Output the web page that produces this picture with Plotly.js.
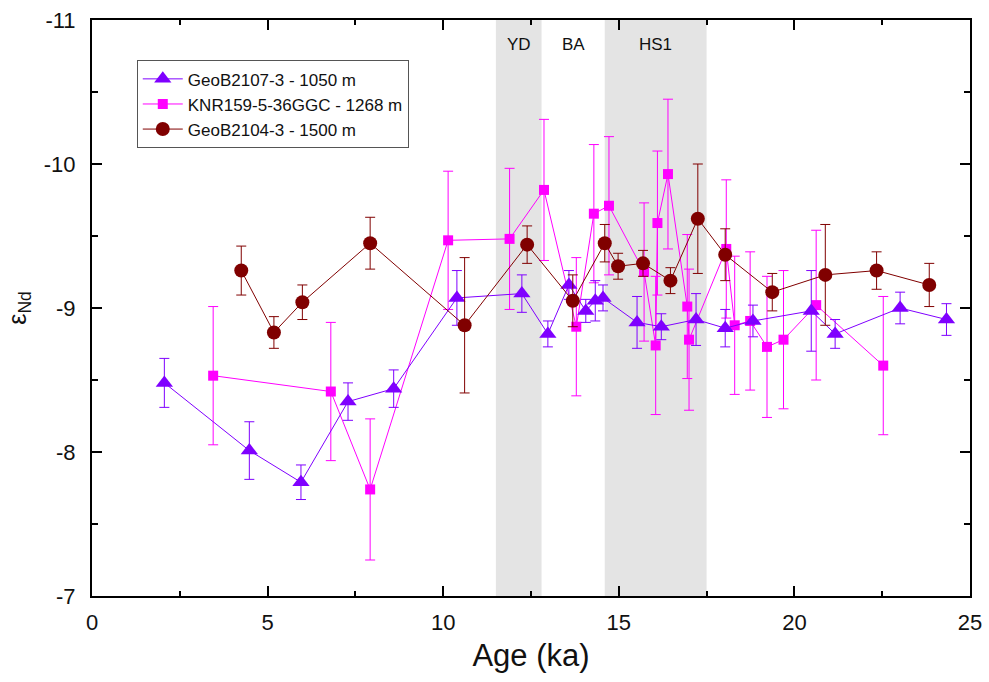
<!DOCTYPE html>
<html>
<head>
<meta charset="utf-8">
<script src="https://cdn.plot.ly/plotly-3.0.1.min.js"></script>
<style>html,body{margin:0;padding:0;background:#fff;}#chart{width:989px;height:682px;}</style>
</head>
<body>
<div id="chart"></div>
<script>
// GeoB2107-3 - 1050 m
const triAge = [2.06,4.48,5.95,7.29,8.59,10.39,12.24,12.98,13.58,14.06,14.33,14.55,15.52,16.21,17.2,18.03,18.82,20.48,21.16,23.01,24.33];
const triEnd = [-8.48,-8.01,-7.79,-8.35,-8.44,-9.07,-9.10,-8.82,-9.16,-8.98,-9.05,-9.07,-8.90,-8.87,-8.92,-8.86,-8.91,-8.98,-8.82,-9.0,-8.92];
const triErr = [0.17,0.2,0.12,0.13,0.13,0.19,0.13,0.09,0.1,0.08,0.14,0.09,0.18,0.09,0.18,0.13,0.11,0.28,0.1,0.11,0.11];
// KNR159-5-36GGC - 1268 m
const sqAge = [3.45,6.80,7.92,10.14,11.89,12.87,13.79,14.29,14.72,15.72,16.05,16.1,16.40,16.95,17.0,18.06,18.30,18.74,19.22,19.69,20.62,22.53];
const sqEnd = [-8.53,-8.42,-7.74,-9.47,-9.48,-9.82,-8.87,-9.655,-9.71,-9.25,-8.74,-9.59,-9.93,-9.01,-8.78,-9.41,-8.88,-8.91,-8.73,-8.78,-9.02,-8.6];
const sqErr = [0.48,0.48,0.49,0.48,0.49,0.49,0.48,0.48,0.48,0.48,0.48,0.5,0.52,0.5,0.49,0.48,0.48,0.48,0.49,0.48,0.52,0.48];
// GeoB2104-3 - 1500 m
const cirAge = [4.25,5.18,5.99,7.92,10.61,12.39,13.69,14.60,14.98,15.69,16.47,17.25,18.03,19.37,20.88,22.34,23.84];
const cirEnd = [-9.26,-8.83,-9.04,-9.45,-8.88,-9.44,-9.05,-9.45,-9.29,-9.31,-9.19,-9.62,-9.37,-9.11,-9.23,-9.26,-9.16];
const cirErr = [0.17,0.11,0.12,0.18,0.47,0.13,0.18,0.13,0.09,0.09,0.09,0.38,0.18,0.13,0.35,0.13,0.15];
// Climate intervals
const periodNames = ['YD','BA','HS1'];
const periodStart = [11.5,12.8,14.6];
const periodEnd = [12.8,14.6,17.5];
const periodShaded = [true,false,true];
const yTickVals = [-11,-10,-9,-8,-7];
const yTickText = ['-11','-10','-9','-8','-7'];
const seriesNames = ['GeoB2107-3 - 1050 m','KNR159-5-36GGC - 1268 m','GeoB2104-3 - 1500 m'];

const font = 'Liberation Sans, Arial, sans-serif';

const traces = [
  {x: sqAge, y: sqEnd, name: seriesNames[1], type:'scatter', mode:'lines+markers',
   line:{color:'#ff00ff', width:1}, marker:{symbol:'square', size:10, color:'#ff00ff'},
   error_y:{type:'data', array:sqErr, visible:true, color:'#ff00ff', thickness:1, width:5}},
  {x: triAge, y: triEnd, name: seriesNames[0], type:'scatter', mode:'lines+markers',
   line:{color:'#7f00ff', width:1}, marker:{symbol:'triangle-up', size:15, color:'#7f00ff'},
   error_y:{type:'data', array:triErr, visible:true, color:'#7f00ff', thickness:1, width:5}},
  {x: cirAge, y: cirEnd, name: seriesNames[2], type:'scatter', mode:'lines+markers',
   line:{color:'#800000', width:1}, marker:{symbol:'circle', size:14, color:'#800000'},
   error_y:{type:'data', array:cirErr, visible:true, color:'#800000', thickness:1, width:5}}
];

const shapes = [];
const annotations = [];
for (let i = 0; i < periodNames.length; i++) {
  if (periodShaded[i]) {
    shapes.push({type:'rect', xref:'x', yref:'paper', x0:periodStart[i], x1:periodEnd[i], y0:0, y1:1,
      fillcolor:'#e4e4e4', line:{width:0}, layer:'below'});
  }
  annotations.push({x:(periodStart[i]+periodEnd[i])/2, y:-10.83, xref:'x', yref:'y', text:periodNames[i],
    showarrow:false, font:{family:font, size:17, color:'#111'}});
}

const layout = {
  width: 989, height: 682,
  margin: {l:92, r:19, t:20, b:86},
  paper_bgcolor:'#fff', plot_bgcolor:'#fff',
  showlegend: true,
  legend: {x:0.051, y:0.93, xanchor:'left', yanchor:'top', bgcolor:'#fff', bordercolor:'#555', borderwidth:1,
    font:{family:font, size:17, color:'#111'}, traceorder:'normal', itemwidth:40, tracegroupgap:0},
  xaxis: {range:[0,25], dtick:5, tick0:0, ticks:'inside', ticklen:10, tickwidth:2, tickcolor:'#000',
    minor:{dtick:2.5, ticks:'inside', ticklen:5, tickwidth:2, tickcolor:'#000'},
    showline:true, linecolor:'#000', linewidth:2, mirror:'ticks', showgrid:false, zeroline:false,
    ticklabelstandoff:6,
    tickfont:{family:font, size:22, color:'#111'},
    title:{text:'Age (ka)', font:{family:font, size:31, color:'#111'}, standoff:10}},
  yaxis: {range:[-7,-11], tickvals:yTickVals, ticktext:yTickText, ticks:'inside', ticklen:10, tickwidth:2, tickcolor:'#000',
    minor:{dtick:0.5, ticks:'inside', ticklen:6, tickwidth:2, tickcolor:'#000'},
    showline:true, linecolor:'#000', linewidth:2, mirror:'ticks', showgrid:false, zeroline:false,
    ticklabelstandoff:10,
    tickfont:{family:font, size:22, color:'#111'},
    title:{text:'ε<sub>Nd</sub>', font:{family:font, size:25, color:'#111'}, standoff:10}},
  shapes: shapes,
  annotations: annotations
};

// legend order: GeoB2107-3, KNR, GeoB2104-3
traces[1].legendrank = 1; traces[0].legendrank = 2; traces[2].legendrank = 3;

Plotly.newPlot('chart', traces, layout, {displayModeBar:false, staticPlot:true});
</script>
</body>
</html>
